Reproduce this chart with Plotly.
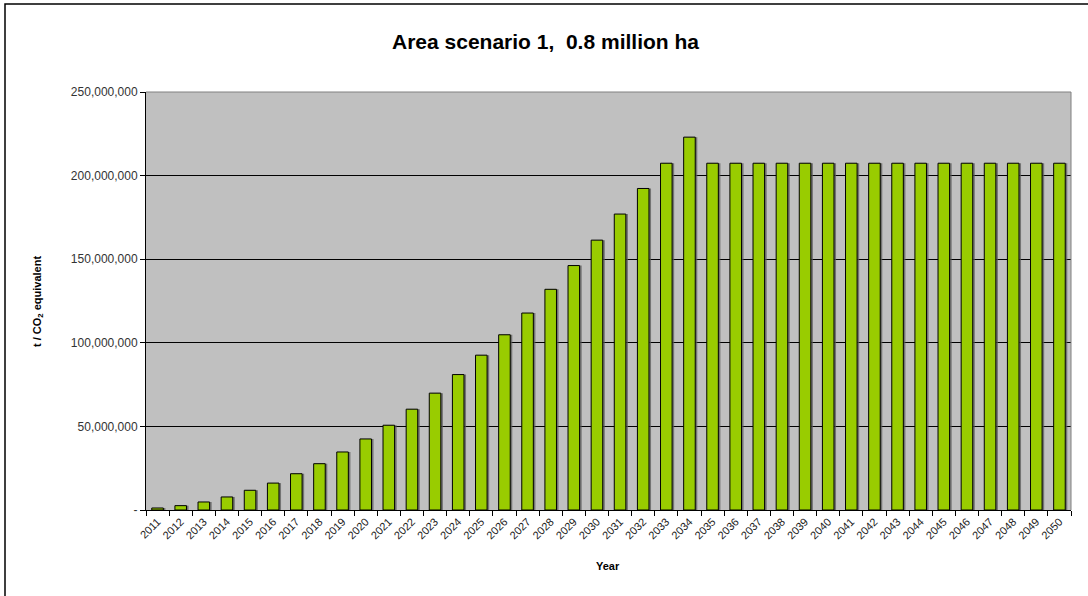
import plotly.graph_objects as go

years = [str(y) for y in range(2011, 2051)]
values = [1.2e6, 2.6e6, 4.8e6, 7.8e6, 11.8e6, 16.1e6, 21.7e6, 27.7e6, 34.7e6, 42.5e6,
          50.7e6, 60.3e6, 69.9e6, 81.0e6, 92.6e6, 104.8e6, 117.8e6, 132.0e6, 146.2e6, 161.4e6,
          177.0e6, 192.3e6, 207.4e6, 223.0e6, 207.4e6, 207.4e6, 207.4e6, 207.4e6, 207.4e6, 207.4e6,
          207.4e6, 207.4e6, 207.4e6, 207.4e6, 207.4e6, 207.4e6, 207.4e6, 207.4e6, 207.4e6, 207.4e6]
ytick_vals = [0, 50e6, 100e6, 150e6, 200e6, 250e6]
ytick_text = ["-", "50,000,000", "100,000,000", "150,000,000", "200,000,000", "250,000,000"]

title = "Area scenario 1,  0.8 million ha"
ytitle = "t / CO<sub>2</sub> equivalent"
xtitle = "Year"

W, H = 1088, 596
L, R, T, B = 146, 17, 92, 86
pw, ph = W - L - R, H - T - B

def px(x):
    return (x - L) / pw

def py(y):
    return (H - B - y) / ph

fig = go.Figure()
# shadow
fig.add_trace(go.Bar(x=years, y=values, width=0.5, offset=-0.25 + 0.09,
                     marker=dict(color="rgba(90,90,90,0.75)", line=dict(width=0)),
                     hoverinfo="skip", showlegend=False))
fig.add_trace(go.Bar(x=years, y=values, width=0.5, offset=-0.25,
                     marker=dict(color="#99CC00", line=dict(color="#000000", width=1)),
                     showlegend=False))

fig.update_layout(
    width=W, height=H,
    margin=dict(l=L, r=R, t=T, b=B, autoexpand=False),
    paper_bgcolor="white",
    plot_bgcolor="#C0C0C0",
    barmode="overlay",
    font=dict(family="Arial, Liberation Sans, sans-serif", color="#000000"),
    xaxis=dict(
        type="category", tickangle=-45, tickson="boundaries",
        ticks="outside", ticklen=5, tickcolor="#000000",
        tickfont=dict(size=11, color="#1a1a1a"),
        showline=True, linecolor="#000000", linewidth=1,
        showgrid=False, mirror=False, range=[-0.5, 39.5],
    ),
    yaxis=dict(
        range=[0, 250e6], tickvals=ytick_vals, ticktext=ytick_text,
        ticks="outside", ticklen=5, tickcolor="#000000",
        tickfont=dict(size=12, color="#333333"),
        showline=True, linecolor="#000000", linewidth=1,
        showgrid=True, gridcolor="#000000", gridwidth=1,
        zeroline=False,
    ),
    annotations=[
        dict(text="<b>" + title + "</b>", x=px(545), y=py(41), xref="paper", yref="paper",
             showarrow=False, font=dict(size=21, color="#000000"), xanchor="center", yanchor="middle"),
        dict(text="<b>" + ytitle + "</b>", x=px(38), y=py(302), xref="paper", yref="paper",
             showarrow=False, textangle=-90, font=dict(size=11, color="#000000"),
             xanchor="center", yanchor="middle"),
        dict(text="<b>" + xtitle + "</b>", x=px(608), y=py(566), xref="paper", yref="paper",
             showarrow=False, font=dict(size=11, color="#000000"), xanchor="center", yanchor="middle"),
    ],
    shapes=[
        dict(type="line", xref="paper", yref="paper", x0=0, x1=1, y0=1, y1=1,
             line=dict(color="#808080", width=1)),
        dict(type="line", xref="paper", yref="paper", x0=1, x1=1, y0=0, y1=1,
             line=dict(color="#808080", width=1)),
        dict(type="rect", xref="paper", yref="paper", x0=px(5), x1=px(1100), y0=py(605), y1=py(4),
             line=dict(color="#000000", width=1.5), layer="above"),
    ],
)

fig.write_html("out.html", config={"displayModeBar": False},
               post_script="document.body.style.margin='0';document.body.style.overflow='hidden';")
